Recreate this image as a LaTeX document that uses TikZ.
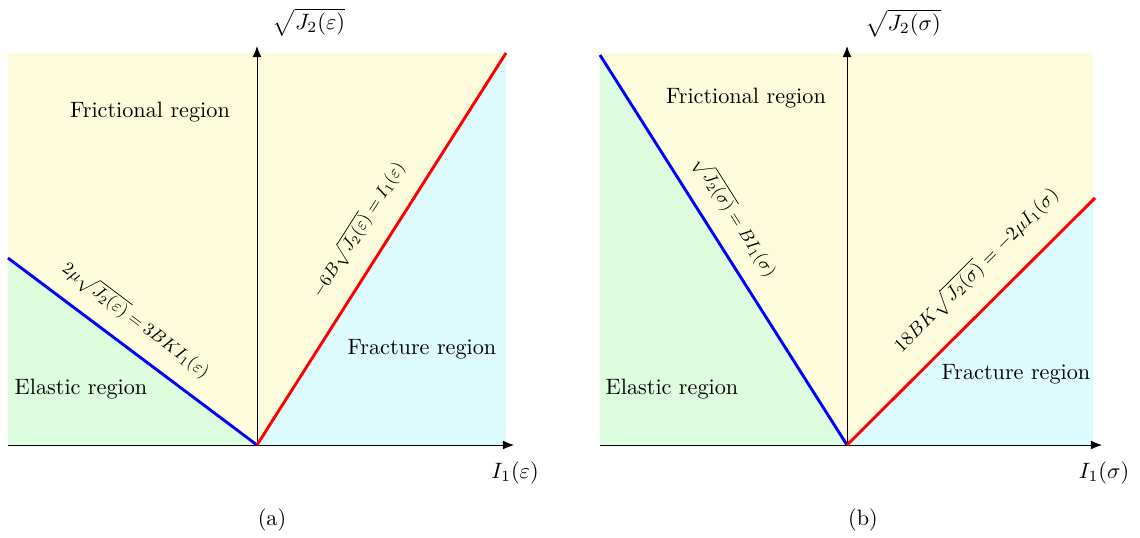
\documentclass[tikz,border=0pt]{standalone}
\usetikzlibrary{arrows.meta}
\definecolor{fyel}{RGB}{252,252,221}
\definecolor{fgrn}{RGB}{221,251,221}
\definecolor{fcyn}{RGB}{221,250,253}
\begin{document}
\begin{tikzpicture}[x=0.45pt,y=-0.45pt,
  axis/.style={thin,-{Latex[length=5pt,width=4pt]}},
  bline/.style={blue,line width=1.3pt},
  rline/.style={red,line width=1.3pt},
  yel/.style={fill=fyel},
  grn/.style={fill=fgrn},
  cyn/.style={fill=fcyn},
  lbl/.style={inner sep=1pt},
  eq/.style={inner sep=1pt,scale=0.8}]
\useasboundingbox (0,0) rectangle (1140,537);
% ---------- panel (a)
\coordinate (OA) at (257,445);
\coordinate (BA) at (8,258);
\coordinate (RA) at (506,53);
\coordinate (XA0) at (8,445);
\coordinate (XA1) at (514,445);
\coordinate (YA1) at (257,46);
\fill[yel] (8,53) rectangle (506,445);
\fill[grn] (BA) -- (XA0) -- (OA) -- cycle;
\fill[cyn] (OA) -- (506,445) -- (RA) -- cycle;
\draw[axis] (XA0) -- (XA1);
\draw[axis] (OA) -- (YA1);
\draw[bline] (BA) -- (OA);
\draw[rline] (OA) -- (RA);
\node[lbl] (ya) at (309,22) {$\sqrt{J_2(\varepsilon)}$};
\node[lbl] (xa) at (515,473) {$I_1(\varepsilon)$};
\node[lbl] (capa) at (272,520) {(a)};
\node[lbl] (fra) at (150,112) {Frictional region};
\node[lbl] (ela) at (81,389) {Elastic region};
\node[lbl] (fca) at (422,349) {Fracture region};
\node[eq,rotate=-37] (eqba) at (136,320) {$2\mu\sqrt{J_2(\varepsilon)}=3BKI_1(\varepsilon)$};
\node[eq,rotate=57.5] (eqra) at (358,230) {$-6B\sqrt{J_2(\varepsilon)}=I_1(\varepsilon)$};
% ---------- panel (b)
\coordinate (OB) at (847,445);
\coordinate (BB) at (600,55);
\coordinate (RB) at (1095,198);
\coordinate (XB0) at (600,445);
\coordinate (XB1) at (1102,445);
\coordinate (YB1) at (847,46);
\fill[yel] (600,53) rectangle (1093,445);
\fill[grn] (BB) -- (XB0) -- (OB) -- cycle;
\fill[cyn] (OB) -- (1093,445) -- (1093,200) -- cycle;
\draw[axis] (XB0) -- (XB1);
\draw[axis] (OB) -- (YB1);
\draw[bline] (BB) -- (OB);
\draw[rline] (OB) -- (RB);
\node[lbl] (yb) at (903,23) {$\sqrt{J_2(\sigma)}$};
\node[lbl] (xb) at (1104,473) {$I_1(\sigma)$};
\node[lbl] (capb) at (863,520) {(b)};
\node[lbl] (frb) at (746,98) {Frictional region};
\node[lbl] (elb) at (672,389) {Elastic region};
\node[lbl] (fcb) at (1016,374) {Fracture region};
\node[eq,rotate=-57.7] (eqbb) at (735,217) {$\sqrt{J_2(\sigma)}=BI_1(\sigma)$};
\node[eq,rotate=45,scale=1.08] (eqrb) at (976,270) {$18BK\sqrt{J_2(\sigma)}=-2\mu I_1(\sigma)$};
\end{tikzpicture}
\end{document}
